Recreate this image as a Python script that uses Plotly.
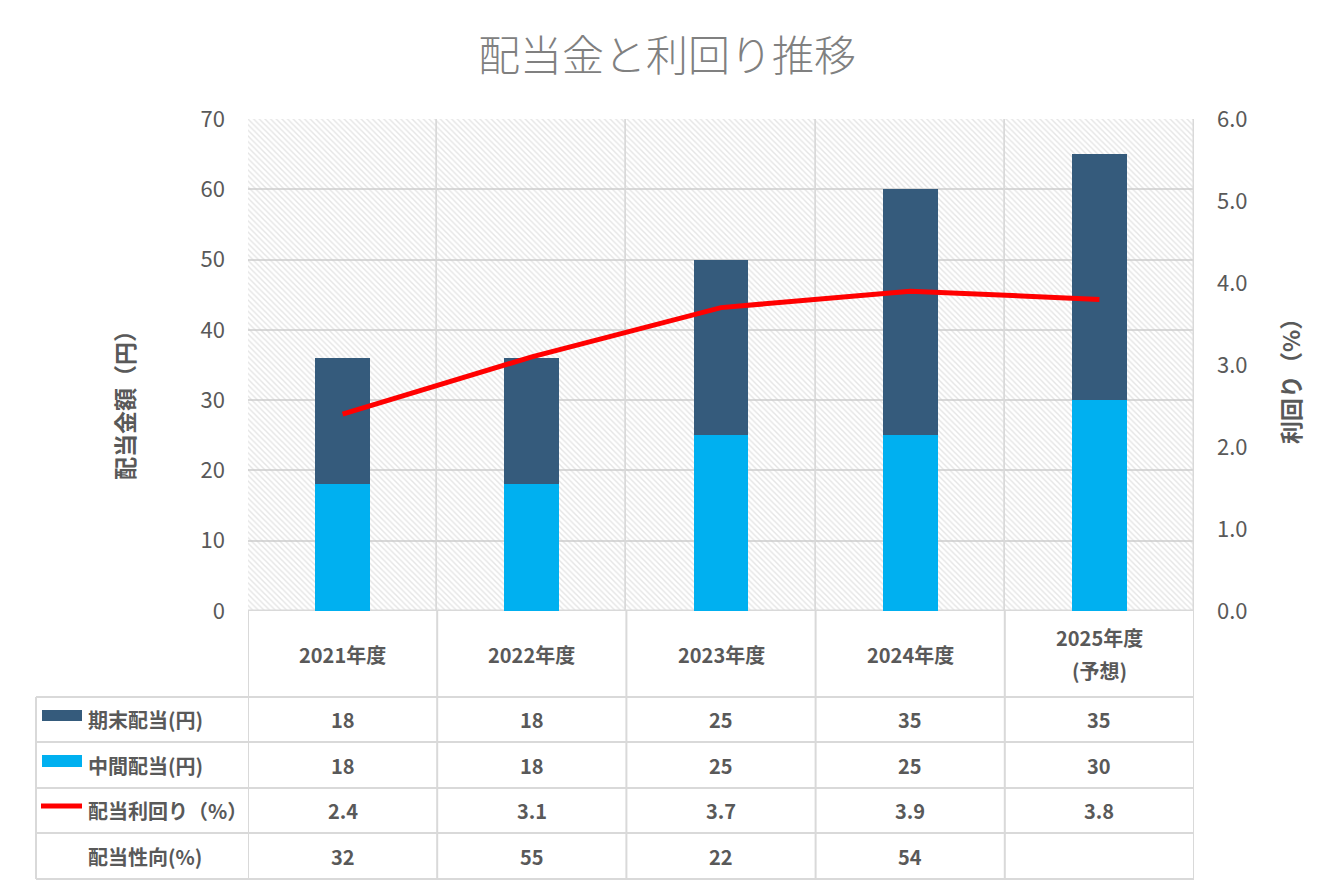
import plotly.graph_objects as go

# ---- data ----
categories = ["2021年度", "2022年度", "2023年度", "2024年度", "2025年度<br>(予想)"]
end_div = [18, 18, 25, 35, 35]        # 期末配当(円)
mid_div = [18, 18, 25, 25, 30]        # 中間配当(円)
yield_pct = [2.4, 3.1, 3.7, 3.9, 3.8] # 配当利回り(%)
payout = [32, 55, 22, 54, None]       # 配当性向(%)
row_labels = ["期末配当(円)", "中間配当(円)", "配当利回り（%）", "配当性向(%)"]

# ---- layout constants ----
W, H = 1334, 889
Y1_MAX, Y2_MAX = 70, 6
PLOT_L, PLOT_R, PLOT_T, PLOT_B = 248, 1194, 119, 611
TABLE_L = 36
ROW_LINES = [697, 742, 788, 833, 879]
GRID = "#d9d9d9"
TXT = "#595959"
FONT = "Noto Sans CJK JP"
DARK = "#355B7C"
LIGHT = "#00B0F0"
RED = "#FF0000"
LINE_GAP = 33

def fx(px):
    return px / W

def fy(py):
    return 1 - py / H

idx = list(range(len(categories)))

fig = go.Figure()

# hatched background (one cell per category)
fig.add_trace(go.Bar(
    x=idx, y=[Y1_MAX] * len(idx), width=1, base=0,
    marker=dict(color="rgba(0,0,0,0)",
                line=dict(color=GRID, width=1.5),
                pattern=dict(shape="\\", fgcolor="#cccccc", bgcolor="rgba(0,0,0,0)",
                             size=4, solidity=0.35)),
    hoverinfo="skip", showlegend=False))

fig.add_trace(go.Bar(x=idx, y=mid_div, base=0, width=0.29, name="中間配当(円)",
                     marker=dict(color=LIGHT, line=dict(width=0)), showlegend=False))
fig.add_trace(go.Bar(x=idx, y=end_div, base=mid_div, width=0.29, name="期末配当(円)",
                     marker=dict(color=DARK, line=dict(width=0)), showlegend=False))
fig.add_trace(go.Scatter(x=idx, y=yield_pct, yaxis="y2", mode="lines", name="配当利回り(%)",
                         line=dict(color=RED, width=5), showlegend=False))

shapes = []
annotations = []

# table grid: vertical lines at category boundaries (below plot)
for i in range(len(idx) + 1):
    shapes.append(dict(type="line", xref="x", yref="paper", x0=i - 0.5, x1=i - 0.5,
                       y0=fy(ROW_LINES[-1]), y1=fy(PLOT_B), line=dict(color=GRID, width=2)))
# left edge of table
shapes.append(dict(type="line", xref="paper", yref="paper", x0=fx(TABLE_L), x1=fx(TABLE_L),
                   y0=fy(ROW_LINES[-1]), y1=fy(ROW_LINES[0]), line=dict(color=GRID, width=2)))
for ry in ROW_LINES:
    shapes.append(dict(type="line", xref="paper", yref="paper", x0=fx(TABLE_L), x1=fx(PLOT_R),
                       y0=fy(ry), y1=fy(ry), line=dict(color=GRID, width=2)))

# legend keys
shapes.append(dict(type="rect", xref="paper", yref="paper", x0=fx(42), x1=fx(82),
                   y0=fy(721), y1=fy(710), fillcolor=DARK, line=dict(width=0)))
shapes.append(dict(type="rect", xref="paper", yref="paper", x0=fx(42), x1=fx(82),
                   y0=fy(767), y1=fy(755), fillcolor=LIGHT, line=dict(width=0)))
shapes.append(dict(type="line", xref="paper", yref="paper", x0=fx(41), x1=fx(82),
                   y0=fy(806), y1=fy(806), line=dict(color=RED, width=5)))

# header row (categories) - each line placed separately, centred in the cell
hdr_y = (PLOT_B + ROW_LINES[0]) / 2
for i, c in enumerate(categories):
    parts = c.split("<br>")
    n = len(parts)
    for k, p in enumerate(parts):
        py = hdr_y + (k - (n - 1) / 2) * LINE_GAP
        annotations.append(dict(xref="x", yref="paper", x=i, y=fy(py), text=f"<b>{p}</b>",
                                showarrow=False, xanchor="center", yanchor="middle",
                                font=dict(family=FONT, size=20, color=TXT)))

rows = [end_div, mid_div, yield_pct, payout]
for r, (lab, vals) in enumerate(zip(row_labels, rows)):
    cy = (ROW_LINES[r] + ROW_LINES[r + 1]) / 2
    annotations.append(dict(xref="paper", yref="paper", x=fx(86), y=fy(cy), text=f"<b>{lab}</b>",
                            showarrow=False, xanchor="left", yanchor="middle",
                            font=dict(family=FONT, size=20, color=TXT)))
    for i, v in enumerate(vals):
        annotations.append(dict(xref="x", yref="paper", x=i, y=fy(cy),
                                text="" if v is None else f"<b>{v}</b>",
                                showarrow=False, xanchor="center", yanchor="middle",
                                font=dict(family=FONT, size=20, color=TXT)))

# axis titles
annotations.append(dict(xref="paper", yref="paper", x=fx(124), y=fy(400), text="<b>配当金額（円）</b>",
                        textangle=-90, showarrow=False, xanchor="center", yanchor="middle",
                        font=dict(family=FONT, size=23, color=TXT)))
annotations.append(dict(xref="paper", yref="paper", x=fx(1290), y=fy(376), text="<b>利回り（%）</b>",
                        textangle=-90, showarrow=False, xanchor="center", yanchor="middle",
                        font=dict(family=FONT, size=23, color=TXT)))
# chart title
annotations.append(dict(xref="paper", yref="paper", x=fx(667), y=fy(52), text="配当金と利回り推移",
                        showarrow=False, xanchor="center", yanchor="middle",
                        font=dict(family=FONT, size=42, color="#808080", weight=300)))

fig.update_layout(
    width=W, height=H, autosize=False,
    margin=dict(l=0, r=0, t=0, b=0, pad=0, autoexpand=False),
    paper_bgcolor="white", plot_bgcolor="white",
    barmode="overlay", bargap=0,
    font=dict(family=FONT, color=TXT),
    xaxis=dict(domain=[fx(PLOT_L), fx(PLOT_R)], range=[-0.5, len(idx) - 0.5], automargin=False,
               showticklabels=False, showgrid=False, zeroline=False, ticks="", fixedrange=True),
    yaxis=dict(domain=[fy(PLOT_B), fy(PLOT_T)], range=[0, Y1_MAX], dtick=10, automargin=False,
               showgrid=True, gridcolor=GRID, gridwidth=1.5, zeroline=False,
               tickfont=dict(family=FONT, size=22, color=TXT), ticklabelstandoff=22),
    yaxis2=dict(overlaying="y", side="right", range=[0, Y2_MAX], dtick=1, tickformat=".1f",
                automargin=False, showgrid=False, zeroline=False,
                tickfont=dict(family=FONT, size=22, color=TXT), ticklabelstandoff=22),
    shapes=shapes, annotations=annotations, showlegend=False,
)

fig.write_html("out.html", post_script="document.body.style.margin='0';",
               config={"displayModeBar": False})
